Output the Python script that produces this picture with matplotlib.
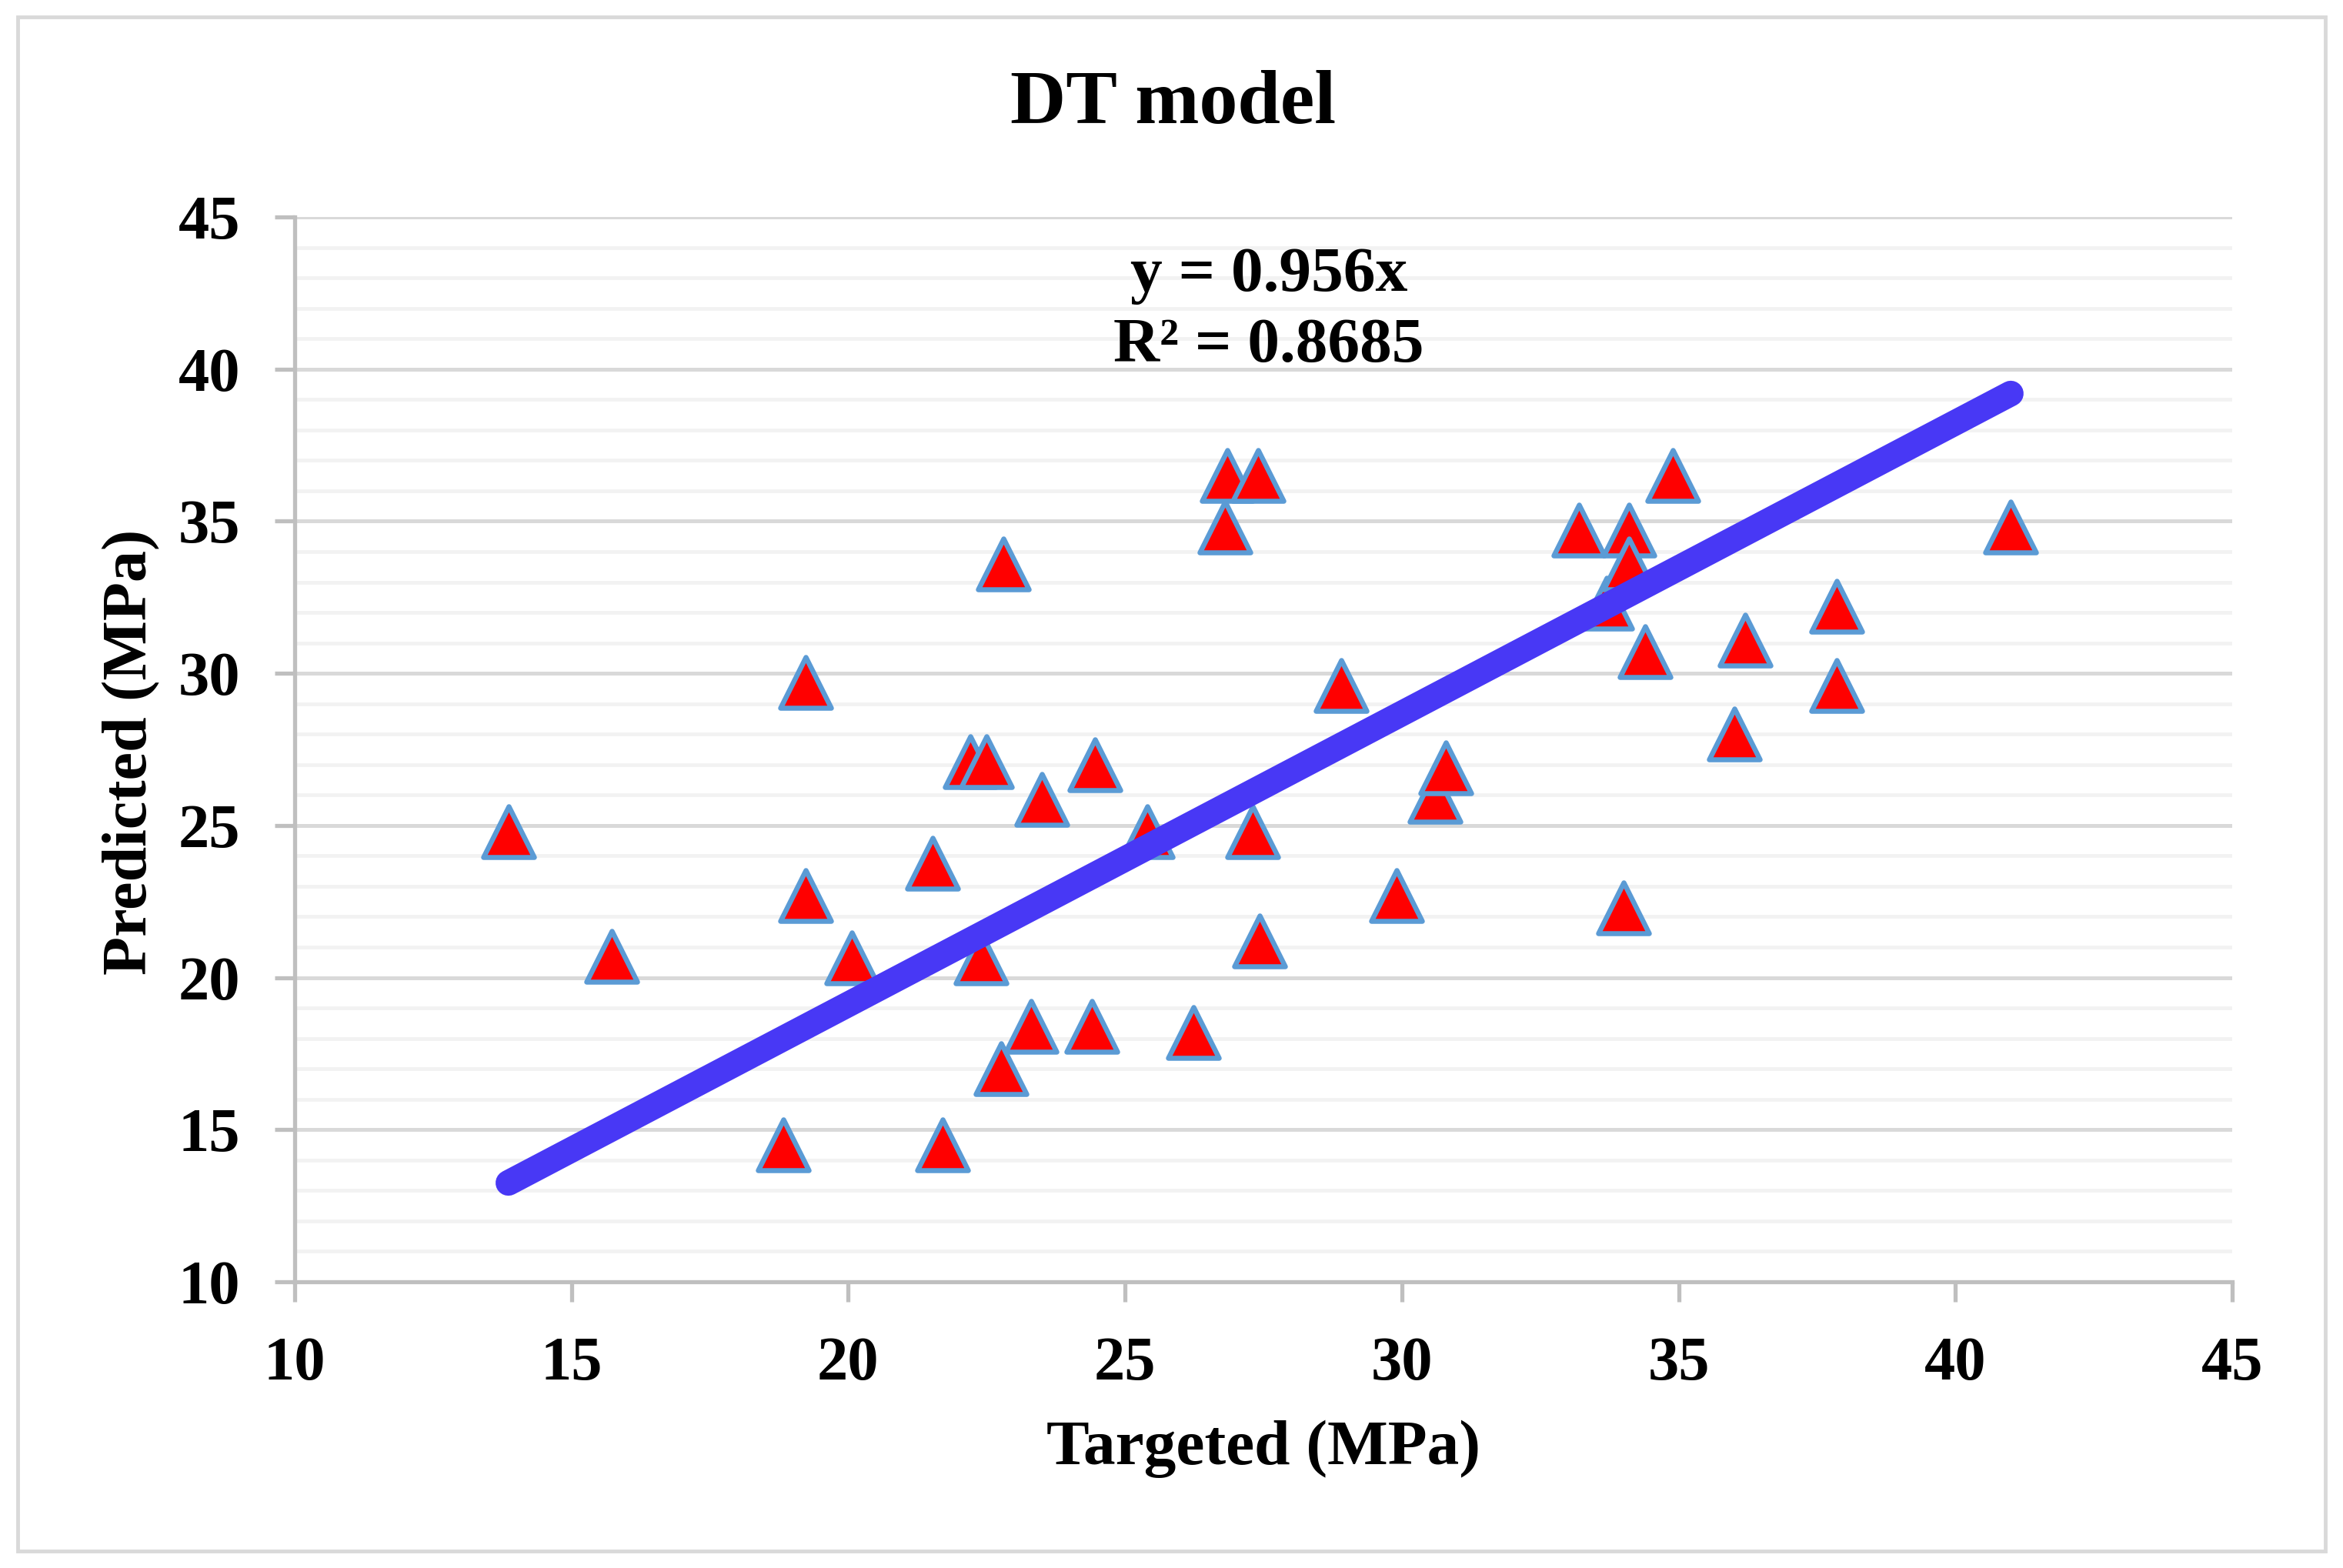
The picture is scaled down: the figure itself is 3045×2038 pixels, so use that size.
import matplotlib
matplotlib.use("Agg")
import matplotlib.pyplot as plt
from matplotlib.ticker import MultipleLocator
from matplotlib.patches import Rectangle
from matplotlib.markers import MarkerStyle
import numpy as np

plt.rcParams['font.family'] = ['Liberation Serif', 'DejaVu Serif']

# ---- data ----
targeted = [13.86, 15.72, 18.82, 19.23, 19.23, 20.06, 21.52, 21.71, 22.2, 22.5,
            22.4, 22.8, 22.76, 23.3, 23.5, 24.46, 24.4, 25.4, 26.24, 26.8,
            26.84, 27.4, 27.3, 27.43, 28.9, 29.9, 30.6, 30.8, 33.2, 33.7,
            34.0, 34.1, 34.1, 34.4, 34.9, 36.0, 36.2, 37.85, 37.85, 41.0]
predicted = [24.8, 20.7, 14.5, 29.7, 22.7, 20.65, 23.75, 14.5, 27.1, 27.1,
             20.65, 33.6, 17.0, 18.4, 25.85, 27.0, 18.4, 24.8, 18.2, 34.8,
             36.5, 36.5, 24.8, 21.2, 29.6, 22.7, 25.95, 26.9, 34.7, 32.3,
             22.3, 34.7, 33.6, 30.7, 36.5, 28.0, 31.1, 32.2, 29.6, 34.8]
slope = 0.956
r2 = 0.8685
title = "DT model"
xlabel = "Targeted (MPa)"
ylabel = "Predicted (MPa)"
xticks = [10, 15, 20, 25, 30, 35, 40, 45]
yticks = [10, 15, 20, 25, 30, 35, 40, 45]

W, H = 3045, 2038
DPI = 100
fig = plt.figure(figsize=(W / DPI, H / DPI), dpi=DPI)
fig.patch.set_facecolor('white')

# outer border
fig.patches.append(Rectangle((23 / W, 22 / H), (3022 - 23) / W, (2016 - 22) / H,
                             transform=fig.transFigure, fill=False,
                             edgecolor='#D9D9D9', linewidth=3.5, zorder=0))

ax = fig.add_axes([383 / W, 1 - 1666 / H, (2901 - 383) / W, (1666 - 282) / H])
ax.set_xlim(xticks[0], xticks[-1])
ax.set_ylim(yticks[0], yticks[-1])
ax.set_xticks(xticks)
ax.set_yticks(yticks)
ax.yaxis.set_minor_locator(MultipleLocator(1))

ax.grid(which='major', axis='y', color='#D9D9D9', linewidth=3.6, zorder=0)
ax.grid(which='minor', axis='y', color='#F2F2F2', linewidth=3.4, zorder=0)
ax.set_axisbelow(True)

for s in ['top', 'right']:
    ax.spines[s].set_visible(False)
for s in ['left', 'bottom']:
    ax.spines[s].set_color('#BFBFBF')
    ax.spines[s].set_linewidth(3.8)

ax.tick_params(axis='both', which='major', direction='out', length=19, width=3.8,
               color='#BFBFBF', labelsize=58)
ax.tick_params(axis='y', which='major', pad=32)
ax.tick_params(axis='x', which='major', pad=32)
ax.tick_params(axis='y', which='minor', length=0)
for lab in ax.get_xticklabels() + ax.get_yticklabels():
    lab.set_fontweight('bold')

tri = MarkerStyle('^', joinstyle='round')
ax.plot(targeted, predicted, linestyle='none', marker=tri, markersize=47,
        markerfacecolor='#FF0000', markeredgecolor='#5B9BD5',
        markeredgewidth=4.7, zorder=3)

# trend line through origin
xl = np.array([min(targeted), max(targeted)])
ax.plot(xl, slope * xl, color='#4838F5', linewidth=24,
        solid_capstyle='round', zorder=4)

fig.text(1649 / W, 1 - 359 / H, "y = %.3fx" % slope, ha='center', va='center',
         fontsize=60, fontweight='bold')
fig.text(1649 / W, 1 - 450 / H, "R\u00b2 = %.4f" % r2, ha='center', va='center',
         fontsize=60, fontweight='bold')

fig.text(1525 / W, 1 - 136 / H, title, ha='center', va='center',
         fontsize=72, fontweight='bold')
fig.text(1642 / W, 1 - 1883 / H, xlabel, ha='center', va='center',
         fontsize=60, fontweight='bold')
fig.text(171 / W, 1 - 977 / H, ylabel, ha='center', va='center',
         fontsize=59, fontweight='bold', rotation=90)

fig.savefig('out.png', dpi=DPI, facecolor='white')
